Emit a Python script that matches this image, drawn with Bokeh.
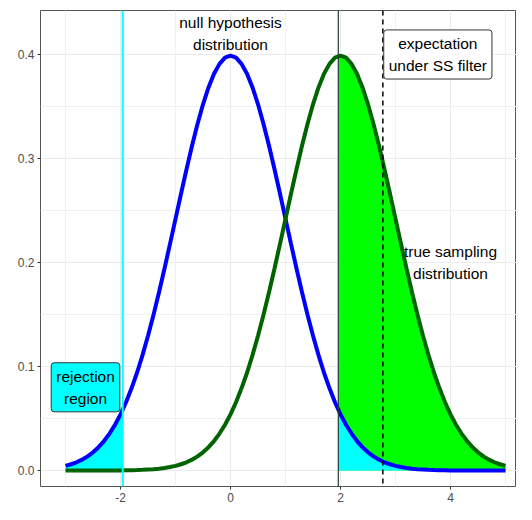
import numpy as np
from bokeh.plotting import figure
from bokeh.models import Range1d, FixedTicker, Label, Span, NumeralTickFormatter
from bokeh.embed import file_html
from bokeh.resources import INLINE

# Standard normal density read at |z| = 0.0, 0.1, ..., 5.0 (half-curve table)
z_half = [round(0.1 * i, 1) for i in range(51)]
density_half = [
    0.3989, 0.3970, 0.3910, 0.3814, 0.3683, 0.3521, 0.3332, 0.3123, 0.2897, 0.2661,
    0.2420, 0.2179, 0.1942, 0.1714, 0.1497, 0.1295, 0.1109, 0.0940, 0.0790, 0.0656,
    0.0540, 0.0440, 0.0355, 0.0283, 0.0224, 0.0175, 0.0136, 0.0104, 0.0079, 0.0060,
    0.0044, 0.0033, 0.0024, 0.0017, 0.0012, 0.0009, 0.0006, 0.0004, 0.0003, 0.0002,
    0.0001, 0.0001, 0.0001, 0.0000, 0.0000, 0.0000, 0.0000, 0.0000, 0.0000, 0.0000,
    0.0000,
]
null_mean = 0.0
true_mean = 2.0
crit_value = 1.96
null_density_at_crit = 0.0584
true_density_at_crit = 0.3986
ss_expectation = 2.77
x_ticks = [-2, 0, 2, 4]
x_tick_labels = {-2: "-2", 0: "0", 2: "2", 4: "4"}
x_minor = [-3, -1, 1, 3, 5]
y_ticks = [0.0, 0.1, 0.2, 0.3, 0.4]
y_minor = [0.05, 0.15, 0.25, 0.35]

# Build the two curves (null from -3..5, true from -3..5) from the table
null_x = [null_mean - z for z in z_half[30:0:-1]] + [null_mean + z for z in z_half]
null_y = density_half[30:0:-1] + density_half
true_x = [true_mean - z for z in z_half[50:0:-1]] + [true_mean + z for z in z_half[:31]]
true_y = density_half[50:0:-1] + density_half[:31]

left_x = [x for x in null_x if x < -crit_value] + [-crit_value]
left_y = [y for x, y in zip(null_x, null_y) if x < -crit_value] + [null_density_at_crit]
right_x = [crit_value] + [x for x in null_x if x > crit_value]
right_y = [null_density_at_crit] + [y for x, y in zip(null_x, null_y) if x > crit_value]
green_x = [crit_value] + [x for x in true_x if x > crit_value]
green_y = [true_density_at_crit] + [y for x, y in zip(true_x, true_y) if x > crit_value]

FONT = "Liberation Sans"

p = figure(width=516, height=504, output_backend="svg", toolbar_location=None,
           x_range=Range1d(-3.455, 5.2), y_range=Range1d(-0.0154, 0.4423),
           min_border_left=40, min_border_top=10, min_border_right=0, min_border_bottom=0)
p.background_fill_color = "white"
p.border_fill_color = "white"
p.outline_line_color = "#555555"
p.outline_line_width = 1

p.xaxis.ticker = FixedTicker(ticks=x_ticks, minor_ticks=x_minor)
p.xaxis.major_label_overrides = x_tick_labels
p.yaxis.ticker = FixedTicker(ticks=y_ticks, minor_ticks=y_minor)
p.yaxis.formatter = NumeralTickFormatter(format="0.0")
for ax in (p.xaxis, p.yaxis):
    ax.axis_line_color = None
    ax.major_tick_line_color = "#333333"
    ax.major_tick_out = 3
    ax.major_tick_in = 0
    ax.minor_tick_line_color = None
    ax.major_label_text_color = "#4D4D4D"
    ax.major_label_text_font = FONT
    ax.major_label_text_font_size = "12px"
    ax.major_label_standoff = 2
for g in (p.xgrid, p.ygrid):
    g.grid_line_color = "#EBEBEB"
    g.grid_line_width = 1
    g.minor_grid_line_color = "#F0F0F0"
    g.minor_grid_line_width = 1

p.varea(x=green_x, y1=0, y2=green_y, fill_color="#00FF00")
p.varea(x=left_x, y1=0, y2=left_y, fill_color="#00FFFF")
p.varea(x=right_x, y1=0, y2=right_y, fill_color="#00FFFF")

p.line(null_x, null_y, line_color="#0000FF", line_width=4)
p.line(true_x, true_y, line_color="#006400", line_width=4)

p.add_layout(Span(location=-crit_value, dimension="height", line_color="#00FFFF", line_width=2))
p.add_layout(Span(location=crit_value, dimension="height", line_color="#1F3F33", line_width=1.2))
p.add_layout(Span(location=ss_expectation, dimension="height", line_color="black",
                  line_width=1.5, line_dash="5 4"))

lab_kw = dict(text_font=FONT, text_font_size="15.5px", text_color="black", text_line_height=1.3)
p.add_layout(Label(x=0, y=0.42, text="null hypothesis\ndistribution",
                   text_align="center", text_baseline="middle", **lab_kw))
p.add_layout(Label(x=4.0, y=0.2, text="true sampling\ndistribution",
                   text_align="center", text_baseline="middle", **lab_kw))
p.add_layout(Label(x=ss_expectation, y=0.4, x_offset=55, text="expectation\nunder SS filter",
                   text_align="center", text_baseline="middle",
                   background_fill_color="white", border_line_color="#333333",
                   border_line_width=1, padding=5, border_radius=3, **lab_kw))
p.add_layout(Label(x=-2.0, y=0.08, x_offset=-35, text="rejection\nregion",
                   text_align="center", text_baseline="middle",
                   background_fill_color="#00FFFF", border_line_color="#333333",
                   border_line_width=1, padding=5, border_radius=3, **lab_kw))

open("out.html", "w").write(file_html(p, INLINE))
